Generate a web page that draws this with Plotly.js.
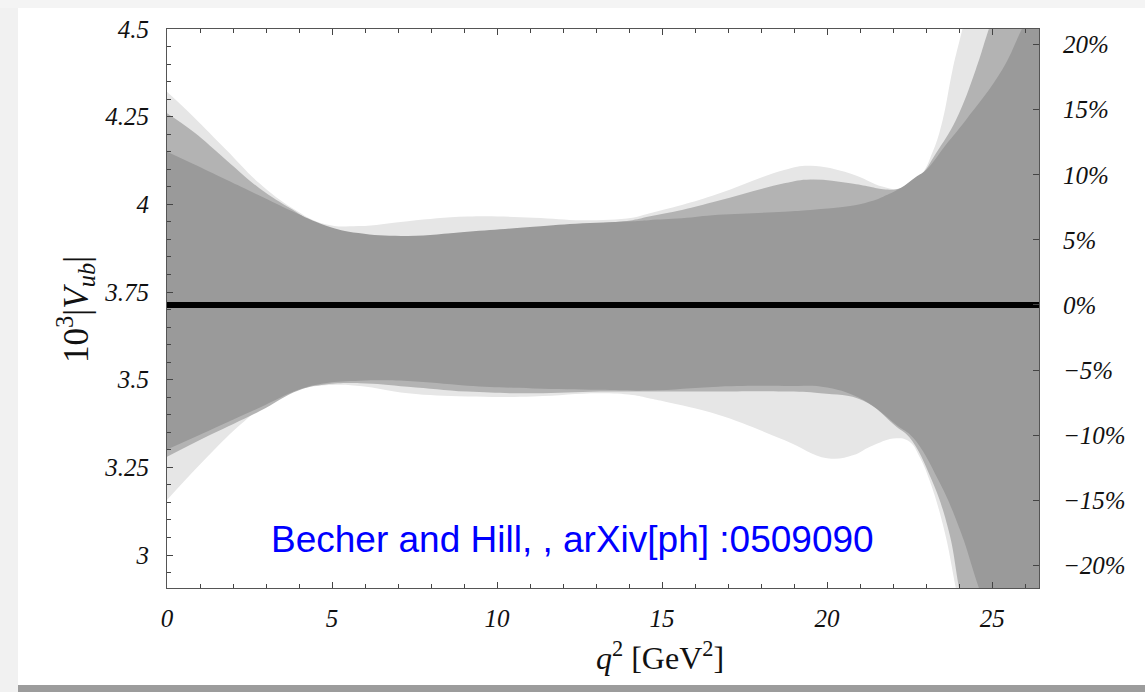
<!DOCTYPE html>
<html><head><meta charset="utf-8">
<script src="https://cdn.plot.ly/plotly-3.0.1.min.js"></script>
<style>html,body{margin:0;padding:0;background:#fff}#chart{width:1145px;height:692px}</style>
</head><body><div id="chart"></div>
<script>
// q^2 [GeV^2] sample points and band edges (10^3 |V_ub|)
const lightUpperX = [0, 0.8, 1.8, 2.8, 3.8, 4.8, 5.8, 7.3, 9.1, 11.1, 12.6, 14.1, 14.6, 15.6, 16.7, 18.7, 19.5, 20.7, 21.7, 22.2, 22.8, 23.2, 23.5, 23.8, 24.1, 25.0, 26.42];
const lightUpperY = [4.321, 4.25, 4.155, 4.06, 3.989, 3.943, 3.938, 3.952, 3.965, 3.962, 3.955, 3.962, 3.974, 3.998, 4.03, 4.098, 4.11, 4.088, 4.05, 4.045, 4.079, 4.15, 4.24, 4.383, 4.5, 4.85, 5.4];
const lightLowerX = [0, 1.1, 2.2, 3.1, 4.0, 4.8, 5.85, 7.3, 9.1, 11.1, 13.1, 14.1, 14.6, 15.1, 16.7, 18.7, 20.0, 20.8, 21.3, 22.1, 22.5, 22.8, 23.1, 23.55, 23.9, 24.5, 26.42];
const lightLowerY = [3.157, 3.268, 3.37, 3.437, 3.472, 3.484, 3.482, 3.461, 3.452, 3.452, 3.461, 3.456, 3.447, 3.437, 3.40, 3.328, 3.276, 3.285, 3.309, 3.333, 3.323, 3.28, 3.214, 3.071, 2.906, 2.6, 2.0];

const mediumUpperX = [0, 0.8, 1.8, 2.8, 3.8, 4.8, 5.8, 7.3, 9.1, 11.1, 12.6, 14.1, 14.6, 15.6, 16.7, 18.7, 19.5, 20.7, 21.3, 21.7, 22.2, 22.8, 23.3, 23.9, 24.5, 24.9, 26.42];
const mediumUpperY = [4.26, 4.207, 4.126, 4.046, 3.985, 3.93, 3.912, 3.907, 3.92, 3.932, 3.943, 3.955, 3.965, 3.984, 4.01, 4.06, 4.071, 4.06, 4.05, 4.043, 4.045, 4.079, 4.146, 4.24, 4.383, 4.5, 4.93];
const mediumLowerX = [0, 1.3, 2.8, 4.0, 4.8, 5.85, 7.3, 9.1, 11.1, 13.1, 14.6, 16.7, 18.7, 19.8, 21.1, 22.1, 22.5, 23.17, 23.68, 24.0, 24.5, 26.42];
const mediumLowerY = [3.28, 3.342, 3.41, 3.47, 3.486, 3.49, 3.48, 3.466, 3.461, 3.466, 3.466, 3.466, 3.466, 3.461, 3.44, 3.366, 3.335, 3.214, 3.071, 2.906, 2.65, 1.9];

const darkUpperX = [0, 0.8, 1.8, 2.8, 3.8, 4.8, 5.8, 7.3, 9.1, 11.1, 12.6, 14.1, 14.6, 15.6, 16.7, 18.7, 19.5, 20.7, 21.3, 21.7, 22.2, 22.7, 23.0, 23.6, 24.2, 25.3, 25.9, 26.42];
const darkUpperY = [4.15, 4.115, 4.07, 4.025, 3.98, 3.94, 3.918, 3.91, 3.922, 3.936, 3.946, 3.952, 3.955, 3.96, 3.97, 3.979, 3.984, 3.995, 4.008, 4.022, 4.045, 4.079, 4.098, 4.17, 4.24, 4.383, 4.5, 4.6];
const darkLowerX = [0, 1.3, 2.8, 4.0, 4.8, 5.85, 7.3, 9.1, 11.1, 13.1, 14.6, 16.7, 18.7, 20.0, 21.1, 22.1, 22.6, 23.37, 24.03, 24.6, 26.42];
const darkLowerY = [3.301, 3.356, 3.42, 3.472, 3.49, 3.497, 3.496, 3.483, 3.475, 3.471, 3.469, 3.48, 3.482, 3.478, 3.442, 3.371, 3.335, 3.214, 3.071, 2.906, 2.4];

const centralValue = 3.713;
const xRange = [0, 26.42];
const yRange = [2.906, 4.5];
const xTicks = [0, 5, 10, 15, 20, 25];
const yTicks = [3, 3.25, 3.5, 3.75, 4, 4.25, 4.5];
const yTickText = ['3', '3.25', '3.5', '3.75', '4', '4.25', '4.5'];
const pctTicks = [-20, -15, -10, -5, 0, 5, 10, 15, 20];
const noteText = 'Becher and Hill, , arXiv[ph] :0509090';

function band(ux, uy, lx, ly, color) {
  return {
    x: ux.concat(lx.slice().reverse()),
    y: uy.concat(ly.slice().reverse()),
    type: 'scatter', mode: 'lines', fill: 'toself', fillcolor: color,
    line: {width: 0, shape: 'spline', smoothing: 1.2, color: color},
    hoverinfo: 'skip', showlegend: false
  };
}

const pctRange = yRange.map(v => (v / centralValue - 1) * 100);
const pctText = pctTicks.map(p => (p < 0 ? '\u2212' + Math.abs(p) : String(p)) + '%');

const traces = [
  band(lightUpperX, lightUpperY, lightLowerX, lightLowerY, '#e6e6e6'),
  band(mediumUpperX, mediumUpperY, mediumLowerX, mediumLowerY, '#b3b3b3'),
  band(darkUpperX, darkUpperY, darkLowerX, darkLowerY, '#9a9a9a'),
  {x: xRange, y: [centralValue, centralValue], type: 'scatter', mode: 'lines',
   line: {color: '#000', width: 6}, hoverinfo: 'skip', showlegend: false},
  {x: xRange, y: [0, 0], yaxis: 'y2', type: 'scatter', mode: 'lines',
   line: {width: 0}, opacity: 0, hoverinfo: 'skip', showlegend: false}
];

const W = 872, H = 559, L = 167, B = 104;
const tickFont = {family: 'Liberation Serif, Times New Roman, serif', size: 25, color: '#111', style: 'italic'};

const layout = {
  width: 1145, height: 692,
  margin: {l: L, r: 1145 - L - W, t: 29, b: B},
  paper_bgcolor: '#fff', plot_bgcolor: '#fff',
  showlegend: false,
  xaxis: {
    range: xRange, tickvals: xTicks, ticks: 'inside', ticklen: 6, tickcolor: '#444',
    showline: true, linecolor: '#555', linewidth: 1, mirror: 'ticks', showgrid: false, zeroline: false,
    tickfont: tickFont, ticklabelstandoff: 8,
    minor: {dtick: 1, ticks: 'inside', ticklen: 4, tickcolor: '#444', showgrid: false}
  },
  yaxis: {
    range: yRange, tickvals: yTicks, ticktext: yTickText,
    ticks: 'inside', ticklen: 6, tickcolor: '#444',
    showline: true, linecolor: '#555', linewidth: 1, showgrid: false, zeroline: false,
    tickfont: tickFont, ticklabelstandoff: 12,
    minor: {dtick: 0.05, tick0: 0, ticks: 'inside', ticklen: 4, tickcolor: '#444', showgrid: false}
  },
  yaxis2: {
    overlaying: 'y', side: 'right', anchor: 'x', range: pctRange, tickvals: pctTicks, ticktext: pctText,
    ticks: 'inside', ticklen: 6, tickcolor: '#444',
    showline: true, linecolor: '#555', linewidth: 1, showgrid: false, zeroline: false,
    tickfont: tickFont, ticklabelstandoff: 18
  },
  annotations: [
    {text: noteText, x: 12.3, y: 3.043, xref: 'x', yref: 'y', showarrow: false,
     font: {family: 'Liberation Sans, Arial, sans-serif', size: 37, color: '#0000ff'}},
    {text: '<i>q</i><sup>2</sup> [GeV<sup>2</sup>]', x: 14.94, xref: 'x', yref: 'paper', y: -68 / H,
     showarrow: false, yanchor: 'middle',
     font: {family: 'Liberation Serif, Times New Roman, serif', size: 32, color: '#111'}},
    {text: '10<sup>3</sup>|<i>V</i><sub><i>ub</i></sub>|', xref: 'paper', x: -92 / W, yref: 'paper', y: (588 - 310) / H,
     showarrow: false, textangle: -90, xanchor: 'center', yanchor: 'middle',
     font: {family: 'Liberation Serif, Times New Roman, serif', size: 35, color: '#111'}}
  ],
  shapes: [
    {type: 'rect', xref: 'paper', yref: 'paper', x0: -L / W, x1: (-L + 18) / W, y0: -B / H, y1: (H + 29) / H,
     fillcolor: '#f1f1f1', line: {width: 0}, layer: 'below'},
    {type: 'rect', xref: 'paper', yref: 'paper', x0: -L / W, x1: (1145 - L) / W, y0: (H + 29 - 8) / H, y1: (H + 29) / H,
     fillcolor: '#f4f4f4', line: {width: 0}, layer: 'below'},
    {type: 'rect', xref: 'paper', yref: 'paper', x0: (-L + 18) / W, x1: (1145 - L) / W, y0: -B / H, y1: (-B + 7) / H,
     fillcolor: '#9c9c9c', line: {width: 0}, layer: 'below'}
  ]
};

Plotly.newPlot('chart', traces, layout, {displayModeBar: false, staticPlot: true});
</script></body></html>
